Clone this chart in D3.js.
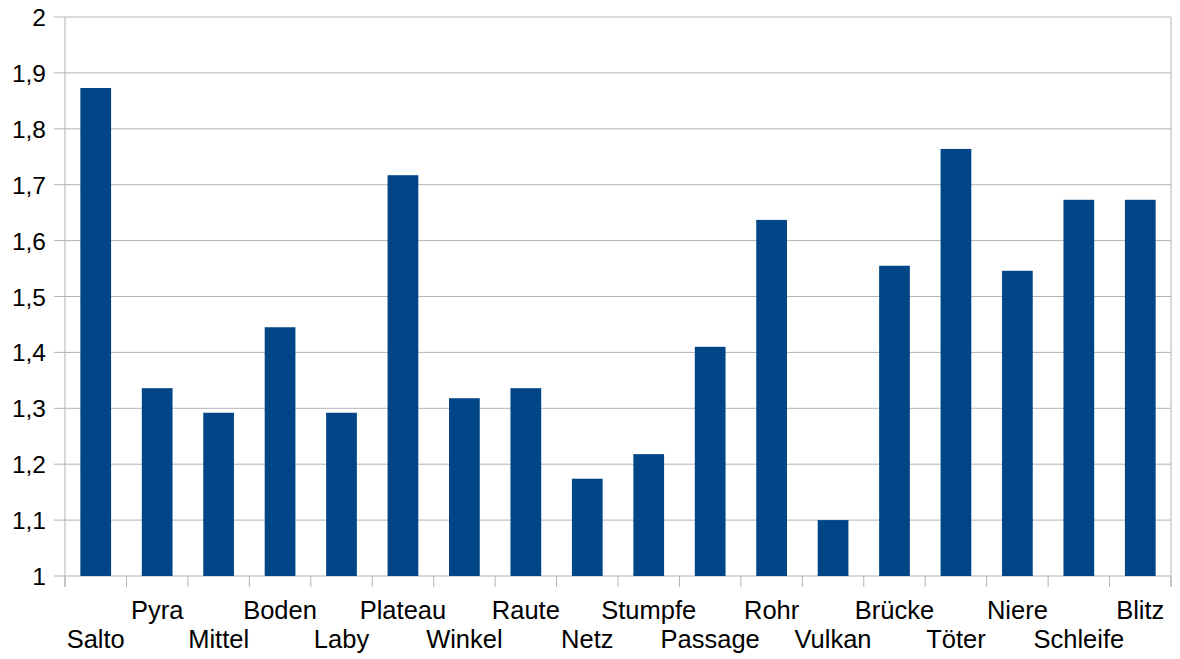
<!DOCTYPE html>
<html>
<head>
<meta charset="utf-8">
<script src="https://cdnjs.cloudflare.com/ajax/libs/d3/7.8.5/d3.min.js"></script>
<style>
  body { margin: 0; background: #fff; }
  text { font-family: "Liberation Sans", Arial, sans-serif; fill: #000; }
</style>
</head>
<body>
<div id="chart"></div>
<script>
// categories and values
const categories = ["Salto", "Pyra", "Mittel", "Boden", "Laby", "Plateau", "Winkel", "Raute", "Netz",
  "Stumpfe", "Passage", "Rohr", "Vulkan", "Brücke", "Töter", "Niere", "Schleife", "Blitz"];
const values = [1.873, 1.336, 1.292, 1.445, 1.292, 1.717, 1.318, 1.336, 1.174,
  1.218, 1.41, 1.637, 1.1, 1.555, 1.764, 1.546, 1.673, 1.673];
const yTicks = [1, 1.1, 1.2, 1.3, 1.4, 1.5, 1.6, 1.7, 1.8, 1.9, 2];

const width = 1180, height = 659;
const margin = { top: 17, right: 9, bottom: 83, left: 65 };

const svg = d3.select("#chart").append("svg")
    .attr("width", width)
    .attr("height", height);

const x = d3.scaleBand()
    .domain(categories)
    .range([margin.left, width - margin.right])
    .paddingInner(0.5)
    .paddingOuter(0.25);

const y = d3.scaleLinear()
    .domain([1, 2])
    .range([height - margin.bottom, margin.top]);

const fmt = d => String(d).replace(".", ",");

// horizontal gridlines
svg.append("g")
  .selectAll("line")
  .data(yTicks)
  .join("line")
    .attr("x1", margin.left - 11)
    .attr("x2", width - margin.right)
    .attr("y1", d => y(d))
    .attr("y2", d => y(d))
    .attr("stroke", "#b3b3b3")
    .attr("stroke-width", 1);

// y labels
svg.append("g")
  .selectAll("text")
  .data(yTicks)
  .join("text")
    .attr("x", margin.left - 19)
    .attr("y", d => y(d) + 9)
    .attr("text-anchor", "end")
    .style("font-size", "24.5px")
    .text(fmt);

// axis lines
const bounds = d3.range(categories.length + 1).map(i => margin.left + i * (width - margin.left - margin.right) / categories.length);

svg.append("line")
    .attr("x1", margin.left).attr("x2", margin.left)
    .attr("y1", margin.top).attr("y2", height - margin.bottom + 11)
    .attr("stroke", "#b3b3b3");
svg.append("line")
    .attr("x1", width - margin.right).attr("x2", width - margin.right)
    .attr("y1", margin.top).attr("y2", height - margin.bottom + 11)
    .attr("stroke", "#b3b3b3");

svg.append("g")
  .selectAll("line")
  .data(bounds)
  .join("line")
    .attr("x1", d => d).attr("x2", d => d)
    .attr("y1", height - margin.bottom)
    .attr("y2", height - margin.bottom + 11)
    .attr("stroke", "#b3b3b3");

// bars
svg.append("g")
  .selectAll("rect")
  .data(values)
  .join("rect")
    .attr("x", (d, i) => x(categories[i]))
    .attr("width", x.bandwidth())
    .attr("y", d => y(d))
    .attr("height", d => y(1) - y(d))
    .attr("fill", "#004586");

// category labels, staggered in two rows
svg.append("g")
  .selectAll("text")
  .data(categories)
  .join("text")
    .attr("x", d => x(d) + x.bandwidth() / 2)
    .attr("y", (d, i) => i % 2 === 0 ? 648 : 619)
    .attr("text-anchor", "middle")
    .style("font-size", "25.5px")
    .text(d => d);
</script>
</body>
</html>
